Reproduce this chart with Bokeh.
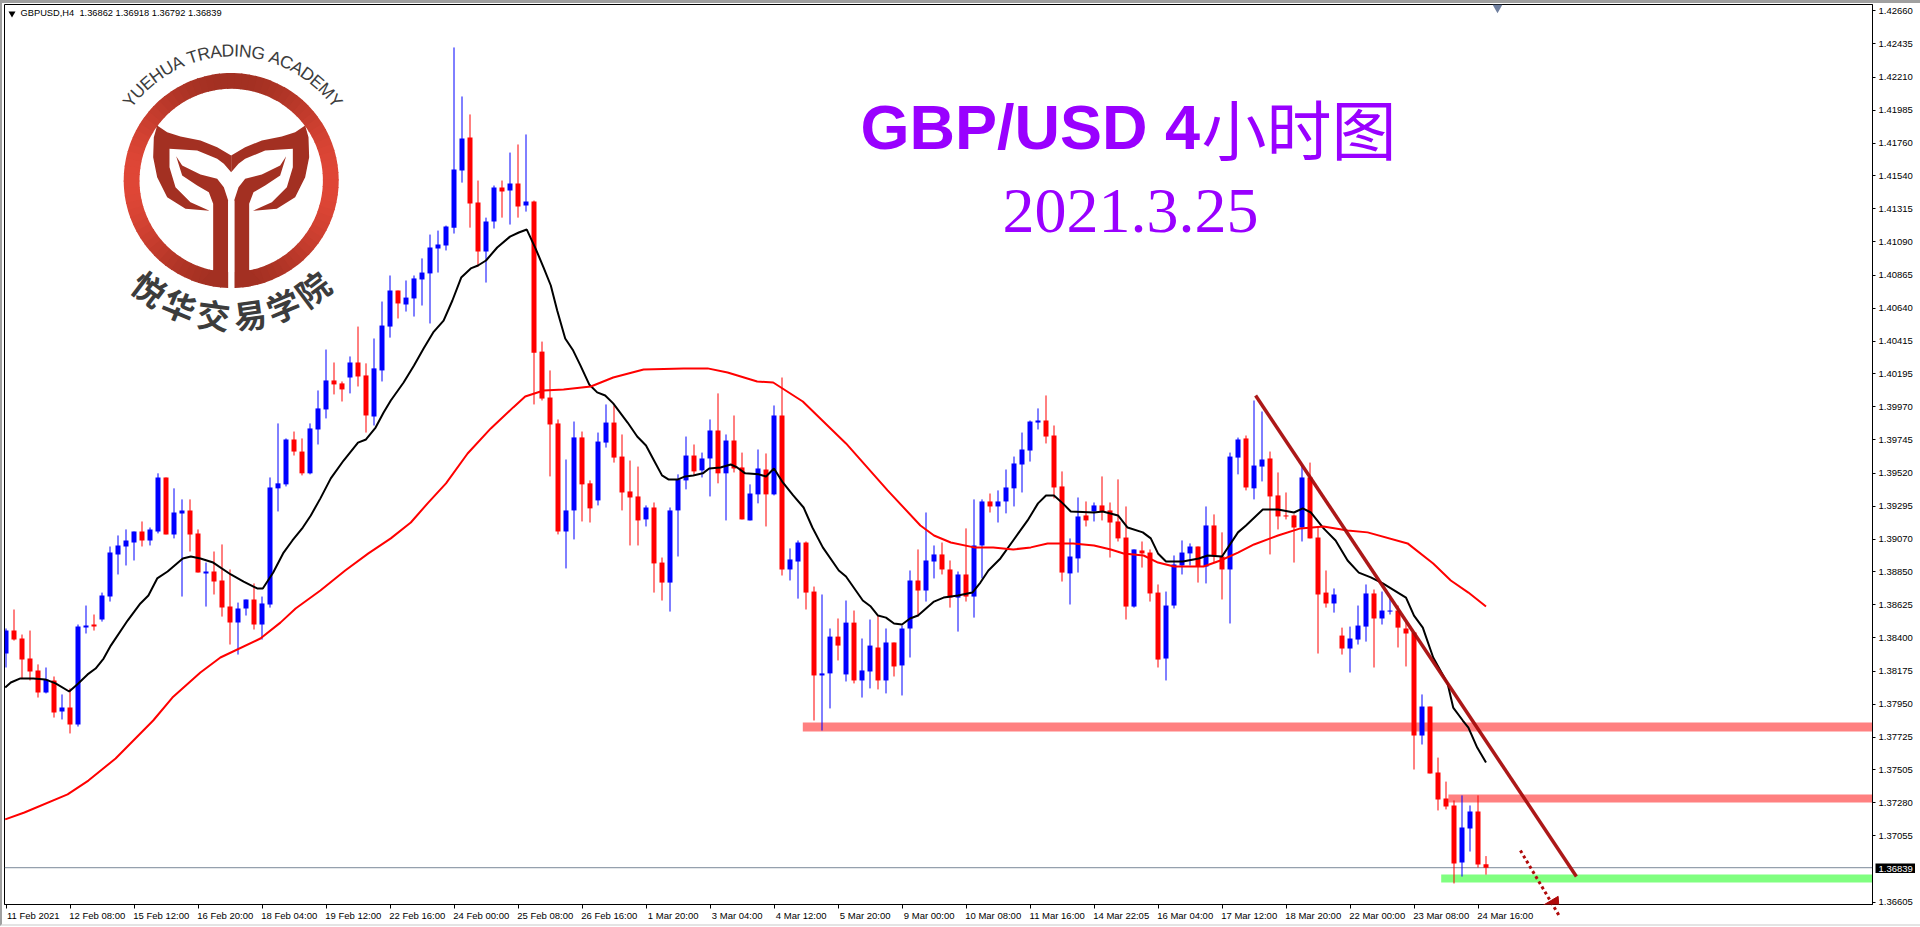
import math
from bokeh.plotting import figure
from bokeh.embed import file_html
from bokeh.resources import INLINE
from bokeh.core.properties import value
from bokeh.models import (Range1d, LinearAxis, FixedTicker, PrintfTickFormatter,
                          Arrow, NormalHead, ColumnDataSource)

# ---------- data: GBPUSD H4 candles ----------
opens = [
 1.38294,1.38450,1.38396,1.38260,1.38179,1.38029,1.38111,1.37900,1.37927,1.37812,
 1.38470,1.38491,1.38525,1.38681,1.38967,1.39021,1.39048,1.39123,1.39062,1.39123,
 1.39490,1.39103,1.39246,1.39266,1.39110,1.38838,1.38851,1.38790,1.38613,1.38504,
 1.38600,1.38661,1.38491,1.38627,1.39416,1.39443,1.39748,1.39666,1.39518,1.39816,
 1.39952,1.40149,1.40129,1.40169,1.40271,1.40183,1.39904,1.40217,1.40515,1.40760,
 1.40665,1.40706,1.40835,1.40876,1.41045,1.41065,1.41187,1.41575,1.41799,1.41357,
 1.41025,1.41228,1.41460,1.41439,1.41487,1.41337,1.41364,1.40345,1.40033,1.39857,
 1.39123,1.39266,1.39762,1.39450,1.39334,1.39727,1.39863,1.39632,1.39395,1.39361,
 1.39205,1.39286,1.38912,1.38776,1.39266,1.39470,1.39639,1.39538,1.39619,1.39809,
 1.39518,1.39741,1.39558,1.39198,1.39375,1.39544,1.39375,1.39911,1.38865,1.38919,
 1.39048,1.38715,1.38145,1.38159,1.38409,1.38152,1.38504,1.38111,1.38172,1.38335,
 1.38111,1.38369,1.38213,1.38464,1.38790,1.38722,1.38919,1.38967,1.38865,1.38674,
 1.38831,1.38681,1.39028,1.39327,1.39293,1.39327,1.39416,1.39578,1.39673,1.39863,
 1.39877,1.39775,1.39429,1.38838,1.38940,1.39232,1.39259,1.39300,1.39266,1.39191,
 1.39082,1.38613,1.38994,1.38980,1.38708,1.38260,1.38620,1.38892,1.38974,1.39021,
 1.38885,1.39164,1.38953,1.38865,1.39625,1.39755,1.39416,1.39564,1.39619,1.39368,
 1.39232,1.39232,1.39150,1.39490,1.39082,1.38708,1.38634,1.38416,1.38328,1.38389,
 1.38477,1.38702,1.38532,1.38579,1.38586,1.38464,1.38437,1.37737,1.37934,1.37485,
 1.37309,1.37262,1.36874,1.37105,1.37221,1.36862]
highs = [
 1.38464,1.38593,1.38423,1.38450,1.38220,1.38199,1.38138,1.38016,1.38057,1.38491,
 1.38620,1.38559,1.38708,1.39021,1.39096,1.39137,1.39123,1.39191,1.39150,1.39518,
 1.39490,1.39416,1.39341,1.39341,1.39137,1.38912,1.38987,1.39035,1.38865,1.38640,
 1.38661,1.38770,1.38681,1.39490,1.39857,1.39755,1.39802,1.39755,1.39857,1.40081,
 1.40359,1.40271,1.40142,1.40312,1.40515,1.40265,1.40434,1.40685,1.40862,1.40760,
 1.40828,1.40862,1.40978,1.41140,1.41167,1.41201,1.42411,1.42078,1.41956,1.41507,
 1.41255,1.41473,1.41507,1.41697,1.41752,1.41820,1.41371,1.40413,1.40217,1.39884,
 1.39612,1.39870,1.39802,1.39470,1.39795,1.39986,1.39979,1.39782,1.39605,1.39564,
 1.39300,1.39320,1.38946,1.39286,1.39511,1.39768,1.39714,1.39659,1.39884,1.40061,
 1.39782,1.39911,1.39659,1.39443,1.39680,1.39653,1.39979,1.40169,1.39008,1.39062,
 1.39055,1.38749,1.38695,1.38464,1.38532,1.38654,1.38586,1.38396,1.38525,1.38552,
 1.38464,1.38369,1.38484,1.38858,1.39001,1.39252,1.39028,1.39048,1.38926,1.38851,
 1.39144,1.39341,1.39341,1.39381,1.39402,1.39544,1.39632,1.39795,1.39877,1.39959,
 1.40047,1.39843,1.39531,1.39076,1.39354,1.39327,1.39320,1.39497,1.39320,1.39477,
 1.39293,1.39001,1.39055,1.39001,1.38763,1.38715,1.38960,1.39062,1.39042,1.39021,
 1.39293,1.39239,1.39117,1.39659,1.39761,1.39775,1.40013,1.39938,1.39666,1.39524,
 1.39388,1.39239,1.39571,1.39591,1.39157,1.38858,1.38736,1.38470,1.38477,1.38620,
 1.38763,1.38729,1.38715,1.38667,1.38620,1.38504,1.38437,1.38016,1.37934,1.37587,
 1.37424,1.37296,1.37330,1.37262,1.37330,1.36918]
lows = [
 1.38199,1.38382,1.38125,1.38111,1.37995,1.38023,1.37859,1.37846,1.37751,1.37798,
 1.38430,1.38450,1.38511,1.38647,1.38831,1.38892,1.38926,1.39021,1.39028,1.39110,
 1.39103,1.39076,1.38681,1.38987,1.38844,1.38613,1.38695,1.38545,1.38355,1.38287,
 1.38552,1.38457,1.38389,1.38606,1.39259,1.39429,1.39639,1.39504,1.39511,1.39714,
 1.39891,1.40054,1.40006,1.40061,1.40108,1.39795,1.39843,1.40142,1.40440,1.40570,
 1.40617,1.40583,1.40658,1.40536,1.40882,1.41032,1.41147,1.41493,1.41187,1.40923,
 1.40814,1.41181,1.41255,1.41208,1.41255,1.41296,1.39986,1.40013,1.39497,1.39103,
 1.38872,1.39069,1.39191,1.39184,1.39300,1.39693,1.39591,1.39266,1.39028,1.39028,
 1.39157,1.38708,1.38654,1.38579,1.38953,1.39409,1.39511,1.39490,1.39361,1.39450,
 1.39198,1.39524,1.39205,1.39198,1.39314,1.39157,1.39368,1.38824,1.38790,1.38667,
 1.38593,1.37839,1.37771,1.37921,1.38247,1.38104,1.38091,1.37995,1.38057,1.38050,
 1.38023,1.38138,1.38009,1.38267,1.38545,1.38647,1.38804,1.38831,1.38606,1.38443,
 1.38647,1.38538,1.38804,1.39252,1.39184,1.39246,1.39293,1.39388,1.39598,1.39816,
 1.39721,1.39348,1.38783,1.38627,1.38844,1.39157,1.39191,1.39198,1.38946,1.39055,
 1.38525,1.38606,1.38878,1.38647,1.38199,1.38111,1.38600,1.38831,1.38892,1.38776,
 1.38770,1.38912,1.38661,1.38498,1.39511,1.39402,1.39341,1.39463,1.38967,1.39137,
 1.39205,1.38912,1.39055,1.39076,1.38294,1.38606,1.38572,1.38287,1.38165,1.38355,
 1.38375,1.38199,1.38491,1.38559,1.38335,1.38206,1.37506,1.37676,1.37479,1.37228,
 1.37235,1.36732,1.36779,1.36949,1.36840,1.36792]
closes = [
 1.38450,1.38389,1.38253,1.38172,1.38029,1.38118,1.37893,1.37927,1.37812,1.38477,
 1.38484,1.38477,1.38688,1.38980,1.39028,1.39062,1.39123,1.39062,1.39137,1.39490,
 1.39103,1.39252,1.39266,1.39103,1.38844,1.38851,1.38783,1.38606,1.38504,1.38600,
 1.38661,1.38491,1.38634,1.39422,1.39450,1.39748,1.39666,1.39518,1.39823,1.39959,
 1.40149,1.40122,1.40088,1.40271,1.40176,1.39911,1.40231,1.40522,1.40760,1.40672,
 1.40712,1.40842,1.40882,1.41052,1.41072,1.41194,1.41582,1.41793,1.41351,1.41025,
 1.41228,1.41460,1.41432,1.41487,1.41330,1.41364,1.40338,1.40026,1.39850,1.39123,
 1.39266,1.39762,1.39443,1.39280,1.39734,1.39863,1.39625,1.39388,1.39354,1.39198,
 1.39286,1.38906,1.38776,1.39266,1.39477,1.39639,1.39531,1.39619,1.39809,1.39518,
 1.39741,1.39551,1.39205,1.39381,1.39551,1.39375,1.39911,1.38865,1.38933,1.39048,
 1.38708,1.38145,1.38159,1.38409,1.38348,1.38504,1.38111,1.38179,1.38348,1.38111,
 1.38369,1.38206,1.38464,1.38790,1.38722,1.38926,1.38967,1.38865,1.38674,1.38831,
 1.38681,1.39028,1.39327,1.39293,1.39327,1.39422,1.39585,1.39680,1.39870,1.39877,
 1.39768,1.39422,1.38844,1.38953,1.39225,1.39198,1.39300,1.39259,1.39184,1.39076,
 1.38613,1.39001,1.38974,1.38702,1.38253,1.38620,1.38899,1.38980,1.39021,1.38885,
 1.39164,1.38953,1.38865,1.39632,1.39748,1.39422,1.39571,1.39612,1.39361,1.39225,
 1.39225,1.39150,1.39490,1.39076,1.38695,1.38634,1.38695,1.38328,1.38396,1.38484,
 1.38702,1.38532,1.38586,1.38586,1.38470,1.38430,1.37737,1.37934,1.37479,1.37303,
 1.37255,1.36868,1.37112,1.37221,1.36861,1.36839]

# black moving average
fast_bars = [-0.1,0.6,1.8,3.4,4.9,6.2,7.9,8.9,10.2,11.2,12.2,13.1,15.2,16.8,17.8,18.9,20.2,22.1,23.1,24.3,25.9,28.1,29.7,31.4,32.1,33.4,34.7,35.8,37.1,38.1,39.3,40.6,42.2,44.0,45.0,46.2,47.2,48.1,49.7,51.0,52.2,53.4,54.7,55.8,56.9,58.1,59.0,60.0,61.4,63.0,64.1,65.1,66.2,67.2,68.1,68.9,69.9,70.9,71.8,72.9,73.9,74.9,75.9,77.7,78.9,80.0,81.0,82.0,82.8,84.0,84.9,85.9,87.1,87.9,89.3,90.6,91.4,92.4,94.1,95.0,96.0,97.1,98.4,99.7,100.8,102.1,104.1,105.0,107.1,108.1,109.0,110.0,111.0,112.0,113.0,114.0,116.0,117.2,119.0,120.8,121.8,122.8,124.3,125.9,127.7,129.0,130.0,131.0,132.1,133.1,136.0,137.1,139.0,140.2,142.1,143.1,144.0,145.0,147.1,149.1,150.2,152.0,154.0,155.0,157.1,159.0,161.0,162.1,163.1,164.7,166.2,167.7,169.1,170.6,172.1,175.0,176.0,177.1,178.4,180.2,180.9,182.1,182.8,183.9,185.0]
fast_ma = [1.38063,1.38097,1.38125,1.38125,1.38118,1.38091,1.38036,1.38084,1.38152,1.38192,1.38260,1.38348,1.38518,1.38634,1.38688,1.38804,1.38851,1.38940,1.38953,1.38940,1.38912,1.38831,1.38783,1.38736,1.38736,1.38844,1.38980,1.39062,1.39150,1.39232,1.39348,1.39484,1.39605,1.39727,1.39748,1.39829,1.39931,1.40013,1.40135,1.40251,1.40366,1.40475,1.40556,1.40692,1.40848,1.40910,1.40930,1.40964,1.41052,1.41126,1.41154,1.41174,1.41045,1.40916,1.40794,1.40624,1.40434,1.40352,1.40251,1.40122,1.40068,1.40047,1.39993,1.39863,1.39768,1.39707,1.39605,1.39504,1.39477,1.39477,1.39497,1.39504,1.39518,1.39551,1.39558,1.39578,1.39558,1.39518,1.39511,1.39497,1.39551,1.39456,1.39368,1.39286,1.39150,1.39015,1.38858,1.38817,1.38654,1.38613,1.38552,1.38538,1.38498,1.38491,1.38532,1.38552,1.38647,1.38674,1.38688,1.38708,1.38776,1.38858,1.38940,1.39062,1.39198,1.39314,1.39368,1.39368,1.39314,1.39259,1.39252,1.39259,1.39232,1.39150,1.39117,1.39076,1.38974,1.38919,1.38919,1.38940,1.38960,1.38953,1.39117,1.39164,1.39273,1.39273,1.39252,1.39280,1.39252,1.39144,1.39062,1.38926,1.38844,1.38811,1.38770,1.38674,1.38552,1.38470,1.38267,1.38091,1.37927,1.37839,1.37791,1.37655,1.37553]
# red moving average
slow_bars = [-0.1,2.3,7.7,10.3,13.7,18.4,20.8,24.3,26.8,31.8,34.3,36.2,39.3,42.4,45.3,48.1,50.6,52.7,55.0,57.7,60.6,63.4,64.9,67.2,69.7,73.1,75.9,79.7,84.7,87.7,90.2,93.9,95.9,99.6,105.0,110.2,114.3,116.0,118.1,121.0,123.4,125.9,128.1,130.2,133.4,136.0,138.1,139.7,142.2,144.0,146.0,149.7,151.8,154.0,156.0,159.0,161.8,164.7,167.7,170.2,175.2,178.4,180.6,182.8,185.0]
slow_ma = [1.37167,1.37214,1.37337,1.37431,1.37581,1.37839,1.37995,1.38165,1.38267,1.38396,1.38504,1.38600,1.38722,1.38858,1.38974,1.39076,1.39184,1.39314,1.39450,1.39653,1.39823,1.39966,1.40040,1.40081,1.40088,1.40108,1.40169,1.40224,1.40231,1.40231,1.40203,1.40142,1.40135,1.40006,1.39721,1.39402,1.39164,1.39096,1.39048,1.39015,1.39015,1.39001,1.39015,1.39042,1.39042,1.39028,1.39001,1.38974,1.38960,1.38912,1.38885,1.38885,1.38926,1.38980,1.39035,1.39096,1.39144,1.39157,1.39130,1.39117,1.39042,1.38906,1.38790,1.38708,1.38613]

price_ticks = [1.42660,1.42435,1.42210,1.41985,1.41760,1.41540,1.41315,1.41090,1.40865,1.40640,1.40415,1.40195,1.39970,1.39745,1.39520,1.39295,1.39070,1.38850,1.38625,1.38400,1.38175,1.37950,1.37725,1.37505,1.37280,1.37055,1.36605]
date_labels = ["11 Feb 2021","12 Feb 08:00","15 Feb 12:00","16 Feb 20:00","18 Feb 04:00","19 Feb 12:00","22 Feb 16:00","24 Feb 00:00","25 Feb 08:00","26 Feb 16:00","1 Mar 20:00","3 Mar 04:00","4 Mar 12:00","5 Mar 20:00","9 Mar 00:00","10 Mar 08:00","11 Mar 16:00","14 Mar 22:05","16 Mar 04:00","17 Mar 12:00","18 Mar 20:00","22 Mar 00:00","23 Mar 08:00","24 Mar 16:00"]
date_bars = [8 * k for k in range(len(date_labels))]

resist_1 = (1.37764, 1.37825, 99.6)    # low, high, first bar
resist_2 = (1.37282, 1.37337, 180.3)
support_1 = (1.36738, 1.36793, 179.4)
trend_bars, trend_prices = [156.2, 196.3], [1.40047, 1.36779]
arrow_bars, arrow_prices = [189.3, 194.2], [1.36956, 1.36508]
ohlc_text = "GBPUSD,H4\u00a0\u00a01.36862 1.36918 1.36792 1.36839"

# ---------- page geometry ----------
W, H = 1920, 927
BL, BT, BB = 2, 3, 2           # window edge widths (left, top, bottom)
FL, FR, FT, FB = 4, 1872, 4, 904
PX_PER_BAR = 8.0
BAR0 = 5.5
PRICE_AT_0 = 1.42730
PRICE_PER_PX = 0.00006793
def X(px): return (px - BAR0) / PX_PER_BAR
def Y(py): return PRICE_AT_0 - py * PRICE_PER_PX

p = figure(width=W - BL, height=924 - BT, output_backend="svg", toolbar_location=None,
           x_range=Range1d(X(FL), X(FR)), y_range=Range1d(Y(FB), Y(FT)),
           x_axis_location=None, y_axis_location=None,
           min_border_left=FL - BL, min_border_right=W - FR + BL, min_border_top=FT - BT,
           min_border_bottom=924 - FB + BT + BB,
           background_fill_color="white", border_fill_color="white",
           styles={"position": "absolute", "left": "0px", "top": "0px", "box-sizing": "content-box",
                   "border-left": "2px solid #a0a0a0", "border-top": "3px solid #a0a0a0",
                   "border-bottom": "2px solid #e4e4e4"})
p.grid.visible = False
p.outline_line_color = "black"
p.outline_line_width = 1

FONT_AX = "Liberation Sans"
AX_SIZE = "9.5px"
yax = LinearAxis(ticker=FixedTicker(ticks=price_ticks), formatter=PrintfTickFormatter(format="%.5f"),
                 major_tick_in=0, major_tick_out=3, minor_tick_out=0, minor_tick_in=0,
                 major_label_standoff=3, axis_line_color="black", major_tick_line_color="black",
                 major_label_text_font=FONT_AX, major_label_text_font_size=AX_SIZE,
                 major_label_text_color="black")
p.add_layout(yax, "right")

centers = [b + 3.4 for b in date_bars]
xax = LinearAxis(ticker=FixedTicker(ticks=centers, minor_ticks=date_bars),
                 major_label_overrides={c: t for c, t in zip(centers, date_labels)},
                 major_tick_in=0, major_tick_out=0, minor_tick_in=0, minor_tick_out=4,
                 major_label_standoff=1, axis_line_color="black", minor_tick_line_color="black",
                 major_tick_line_color=None,
                 major_label_text_font=FONT_AX, major_label_text_font_size=AX_SIZE,
                 major_label_text_color="black")
p.add_layout(xax, "below")

# zones
for lo, hi, first, col in [(*resist_1, "#ff8080"), (*resist_2, "#ff8080"), (*support_1, "#80ff80")]:
    p.quad(left=[first], right=[X(1875)], bottom=[lo], top=[hi], fill_color=col, line_color=None)

# price line
p.segment(x0=[X(FL)], x1=[X(FR)], y0=[closes[-1]], y1=[closes[-1]], line_color="#7a8899", line_width=1)

# candles
bars = list(range(len(opens)))
cols = ["#0000ff" if c > o else "#ff0000" for o, c in zip(opens, closes)]
src = ColumnDataSource(dict(x=bars, o=opens, h=highs, l=lows, c=closes, col=cols,
                            top=[max(a, b) for a, b in zip(opens, closes)],
                            bot=[min(a, b) for a, b in zip(opens, closes)]))
p.segment(x0="x", x1="x", y0="l", y1="h", line_color="col", line_width=1, source=src)
p.vbar(x="x", width=5 / PX_PER_BAR, top="top", bottom="bot", fill_color="col", line_color=None, source=src)

# moving averages
p.line(fast_bars, fast_ma, line_color="black", line_width=2)
p.line(slow_bars, slow_ma, line_color="#ff0000", line_width=2)

# trend line and arrow
p.line(trend_bars, trend_prices, line_color="#a80c0c", line_width=3.5, line_alpha=0.95)
p.add_layout(Arrow(x_start=arrow_bars[0], y_start=arrow_prices[0], x_end=arrow_bars[1], y_end=arrow_prices[1],
                   line_color="#b00a0a", line_width=3, line_dash="3 3",
                   end=NormalHead(size=18, fill_color="#b00a0a", line_color="#b00a0a")))

# top-left caption and small markers
p.text(x=[X(20)], y=[Y(12.5)], text=[ohlc_text], text_font=value(FONT_AX), text_font_size=value("9.3px"),
       text_color="black", text_baseline="middle", text_align="left")
p.scatter(x=[X(11.5)], y=[Y(13)], marker="inverted_triangle", size=7, fill_color="black", line_color=None)
p.scatter(x=[X(1497)], y=[Y(7)], marker="inverted_triangle", size=10, fill_color="#6f7f9f", line_color=None)

# title
PURPLE = "#9900ff"
p.text(x=[X(860)], y=[Y(126)], text=["GBP/USD 4"], text_font=value("Liberation Sans"), text_font_style="bold",
       text_font_size=value("63px"), text_color=PURPLE, text_baseline="middle", text_align="left")
p.text(x=[X(1201)], y=[Y(126)], text=["小时图"], text_font=value("Noto Sans CJK SC"), text_font_style="normal",
       text_font_size=value("65px"), text_color=PURPLE, text_baseline="middle", text_align="left")
p.text(x=[X(1130)], y=[Y(210)], text=["2021.3.25"], text_font=value("Liberation Serif"),
       text_font_size=value("64px"), text_color=PURPLE, text_baseline="middle", text_align="center")

# ---------- logo ----------
CX, CY = 230.7, 180.0
DARK, LIGHT = (0xa3, 0x30, 0x22), (0xe0, 0x47, 0x37)
N = 90
for k in range(N):
    a0 = 2 * math.pi * k / N
    a1 = 2 * math.pi * (k + 1.15) / N
    t = abs(math.cos((a0 + a1) / 2)) ** 2.2
    col = "#%02x%02x%02x" % tuple(int(d + (l - d) * t) for d, l in zip(DARK, LIGHT))
    p.annular_wedge(x=[X(CX)], y=[Y(CY)], inner_radius=[91.7], outer_radius=[107.5],
                    inner_radius_units="screen", outer_radius_units="screen",
                    start_angle=[a0], end_angle=[a1], fill_color=col, line_color=None)
LOGO = "#a33022"
# crop-coordinates (3x) of the left half; the right half is mirrored
MID = 692
wing = [(470,375),(500,395),(540,408),(600,420),(650,440),(692,465),(692,515),(670,490),(650,475),(590,450),(507,445),
        (507,500),(525,560),(570,605),(627,631),(555,625),(500,590),(470,530),(458,470),(460,410)]
stem = [(527,467),(545,495),(600,522),(650,535),(670,560),(683,600),(683,835),(670,858),(640,858),(600,845),(638,808),
        (638,610),(625,575),(590,555),(545,525)]
for pts in (wing, stem):
    for mirror in (False, True):
        xs = [X((2 * MID - a if mirror else a) / 3) for a, b in pts]
        ys = [Y(b / 3) for a, b in pts]
        p.patch(xs, ys, fill_color=LOGO, line_color=None)
p.quad(left=[X(683 / 3)], right=[X(702 / 3)], bottom=[Y(292)], top=[Y(200)], fill_color="white", line_color=None)

brand = "YUEHUA TRADING ACADEMY"
adv = [.667,.722,.667,.722,.722,.667,.278,.611,.722,.667,.722,.278,.722,.778,.278,.667,.722,.667,.722,.667,.833,.667]
FS = 17.5
R1 = 130.0
total = sum(adv) * FS
pos = -total / 2
for ch, w in zip(brand, adv):
    mid = pos + w * FS / 2
    pos += w * FS
    th = mid / R1
    if ch == " ":
        continue
    p.text(x=[X(CX + 1.5 + R1 * math.sin(th))], y=[Y(CY - R1 * math.cos(th))], text=[ch], angle=[-th],
           text_font=value("Liberation Sans"), text_font_size=value("17.5px"), text_color="#3c3c3c",
           text_align="center", text_baseline="middle")
cn = "悦华交易学院"
R2 = 135.0
for ch, deg in zip(cn, [37, 22.5, 7.5, -8, -22.5, -37]):
    th = math.radians(deg)
    p.text(x=[X(CX - R2 * math.sin(th))], y=[Y(CY + R2 * math.cos(th))], text=[ch], angle=[-th],
           text_font=value("Noto Sans CJK SC"), text_font_style="bold", text_font_size=value("33px"),
           text_color="#3c3c3c", text_align="center", text_baseline="middle")

# ---------- last price tag: a tiny figure of its own, placed over the price axis ----------
tag = figure(width=40, height=11, output_backend="svg", toolbar_location=None,
             x_range=Range1d(0, 40), y_range=Range1d(0, 11), x_axis_location=None, y_axis_location=None,
             min_border=0, min_border_left=0, min_border_right=0, min_border_top=0, min_border_bottom=0,
             background_fill_color="black", border_fill_color="black", outline_line_color=None,
             styles={"position": "absolute", "left": "1875px", "top": "862px", "z-index": "10"})
tag.grid.visible = False
tag.text(x=[3], y=[5.5], text=["%.5f" % closes[-1]], text_color="white", text_font=value(FONT_AX),
         text_font_size=value(AX_SIZE), text_baseline="middle", text_align="left")

open("out.html", "w").write(file_html([p, tag], INLINE))
